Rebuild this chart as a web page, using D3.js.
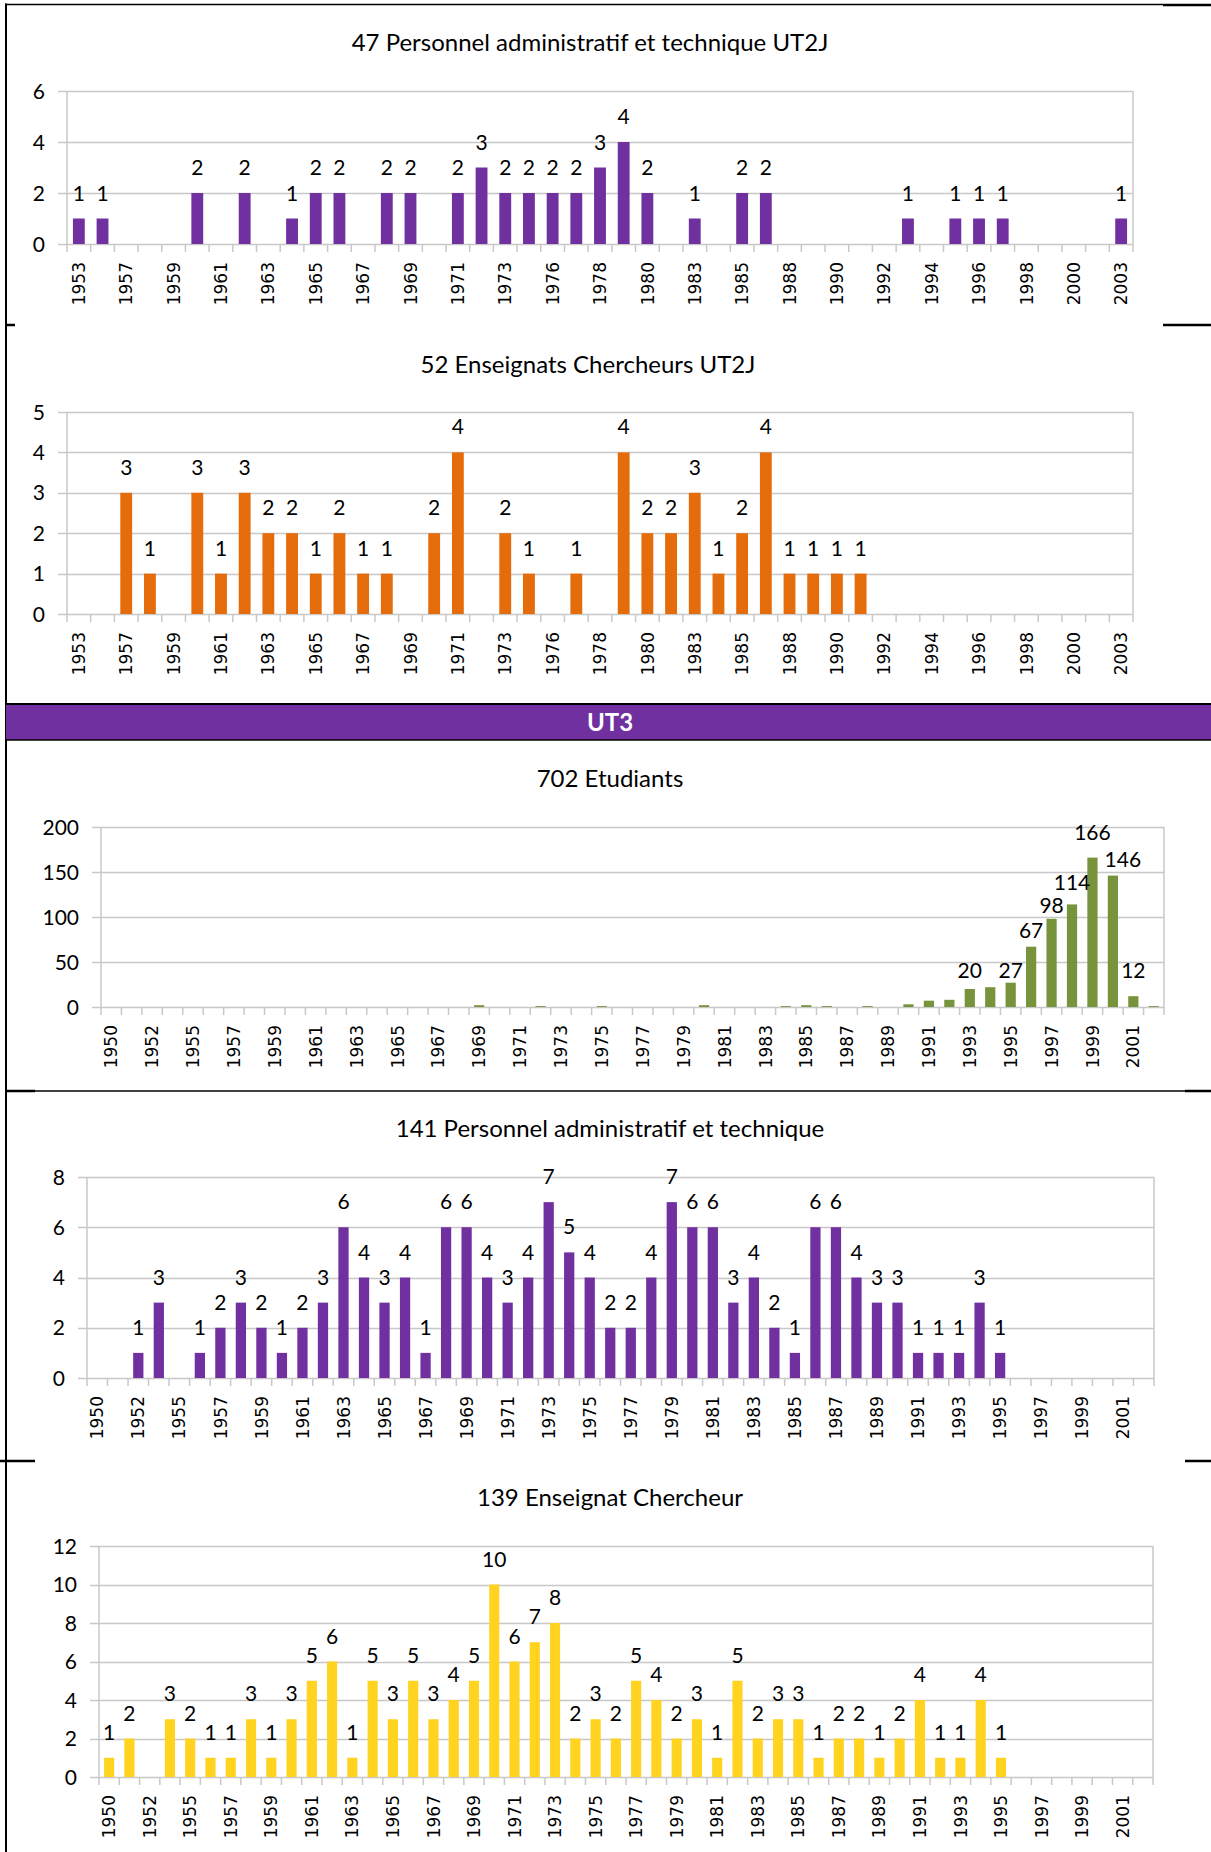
<!DOCTYPE html><head><meta charset="utf-8">
<title>UT2J / UT3</title>
<script src="https://cdn.jsdelivr.net/npm/d3@7"></script>
<style>
body { margin: 0; background: white; }
svg text { font-family: Lato, "Open Sans", sans-serif; fill: #000; }
svg text.xlab { font-family: "DejaVu Sans", sans-serif; }
</style>
</head><body>
<svg id="page" width="1211" height="1852"></svg>
<script>
// UT2J years (x categories)
var yearsUT2J = [1953,1955,1957,1958,1959,1960,1961,1962,1963,1964,1965,1966,1967,1968,1969,1970,
  1971,1972,1973,1975,1976,1977,1978,1979,1980,1982,1983,1984,1985,1987,1988,1989,1990,1991,1992,
  1993,1994,1995,1996,1997,1998,1999,2000,2002,2003];
var persUT2J = [1,1,0,0,0,2,0,2,0,1,2,2,0,2,2,0,2,3,2,2,2,2,3,4,2,0,1,0,2,2,0,0,0,0,0,1,0,1,1,1,0,0,0,0,1];
var ensUT2J  = [0,0,3,1,0,3,1,3,2,2,1,2,1,1,0,2,4,0,2,1,0,1,0,4,2,2,3,1,2,4,1,1,1,1,0,0,0,0,0,0,0,0,0,0,0];

// UT3 years
var yearsUT3 = [1950,1951,1952,1954,1955,1956,1957,1958,1959,1960,1961,1962,1963,1964,1965,1966,1967,
  1968,1969,1970,1971,1972,1973,1974,1975,1976,1977,1978,1979,1980,1981,1982,1983,1984,1985,1986,
  1987,1988,1989,1990,1991,1992,1993,1994,1995,1996,1997,1998,1999,2000,2001,2002];
var etudUT3 = [0,0,0,0,0,0,0,0,0,0,0,0,0,0,0,0,0,0,2,0,0,1,0,0,1,0,0,0,0,2,0,0,0,1,2,1,0,1,0,3,7,8,
  20,22,27,67,98,114,166,146,12,1];
var etudLabelled = [1993,1995,1996,1997,1998,1999,2000,2001];
var persUT3 = [0,0,1,3,0,1,2,3,2,1,2,3,6,4,3,4,1,6,6,4,3,4,7,5,4,2,2,4,7,6,6,3,4,2,1,6,6,4,3,3,1,1,1,3,1,
  0,0,0,0,0,0,0];
var ensUT3  = [1,2,0,3,2,1,1,3,1,3,5,6,1,5,3,5,3,4,5,10,6,7,8,2,3,2,5,4,2,3,1,5,2,3,3,1,2,2,1,2,4,1,1,4,1,
  0,0,0,0,0,0,0];

var svg = d3.select("#page");
var gridColor = "#c8c8c8";

function hline(x1, x2, yy, w) {
  svg.append("line").attr("x1", x1).attr("x2", x2).attr("y1", yy).attr("y2", yy)
    .attr("stroke", "#000").attr("stroke-width", w);
}

// table borders
svg.append("line").attr("x1", 6).attr("x2", 6).attr("y1", 3.5).attr("y2", 1852).attr("stroke", "#000").attr("stroke-width", 2);
hline(5, 1163, 4.5, 1.5);
hline(1163, 1211, 5, 2.5);
hline(5, 15, 325, 2.5);
hline(1163, 1211, 325, 2.5);
// UT3 band
svg.append("rect").attr("x", 6).attr("y", 704).attr("width", 1205).attr("height", 36).attr("fill", "#7030a0");
hline(5, 1211, 704, 2);
hline(5, 1211, 740, 1.5);
svg.append("text").attr("x", 610).attr("y", 722).attr("dy", "0.36em").attr("text-anchor", "middle")
  .style("font-size", "24px").style("font-weight", "bold").style("fill", "#fff").text("UT3");
hline(5, 1211, 1091, 1.5);
hline(5, 35, 1091, 2.5);
hline(1185, 1211, 1091, 2.5);
hline(0, 35, 1461, 2.5);
hline(1185, 1211, 1461, 2.5);

function drawPanel(p) {
  var g = svg.append("g");
  var x = d3.scaleBand().domain(p.years).range([p.left, p.right]).paddingInner(0.5).paddingOuter(0.25);
  var y = d3.scaleLinear().domain([0, p.ymax]).range([p.bottom, p.top]);
  var step = x.step();
  var nudge = p.nudge || {};

  g.append("text").attr("x", p.titleX).attr("y", p.titleY).attr("dy", "0.36em").attr("text-anchor", "middle")
    .style("font-size", "24px").text(p.title);

  var ticks = d3.range(0, p.ymax + p.step / 2, p.step);
  // gridlines with small outside tick
  g.selectAll("line.grid").data(ticks).join("line").attr("class", "grid")
    .attr("x1", p.left - 9).attr("x2", p.right)
    .attr("y1", d => Math.round(y(d)) + 0.5).attr("y2", d => Math.round(y(d)) + 0.5)
    .attr("stroke", gridColor).attr("stroke-width", 1.5);
  g.selectAll("text.ytick").data(ticks).join("text").attr("class", "ytick")
    .attr("x", p.left - 22).attr("y", d => y(d)).attr("dy", "0.36em").attr("text-anchor", "end")
    .style("font-size", "21px").text(d => d);
  // axis frame
  g.append("line").attr("x1", p.left).attr("x2", p.left).attr("y1", p.top).attr("y2", p.bottom)
    .attr("stroke", gridColor).attr("stroke-width", 1.5);
  g.append("line").attr("x1", p.right).attr("x2", p.right).attr("y1", p.top).attr("y2", p.bottom)
    .attr("stroke", gridColor).attr("stroke-width", 1.5);
  // category boundary ticks
  g.selectAll("line.xtick").data(d3.range(p.years.length + 1)).join("line").attr("class", "xtick")
    .attr("x1", i => p.left + i * step).attr("x2", i => p.left + i * step)
    .attr("y1", p.bottom).attr("y2", p.bottom + 8)
    .attr("stroke", gridColor).attr("stroke-width", 1.5);

  // bars
  g.selectAll("rect.bar").data(p.values).join("rect").attr("class", "bar")
    .attr("x", (d, i) => x(p.years[i])).attr("width", x.bandwidth())
    .attr("y", d => y(d)).attr("height", d => y(0) - y(d))
    .attr("fill", p.color);

  // data labels (some moved a little, as in the original, to avoid collisions)
  var shown = p.values.map((v, i) => ({v: v, yr: p.years[i]}))
    .filter(d => d.v > 0 && (!p.labelled || p.labelled.indexOf(d.yr) >= 0));
  g.selectAll("text.dlab").data(shown).join("text").attr("class", "dlab")
    .attr("x", d => x(d.yr) + x.bandwidth() / 2 + (nudge[d.yr] ? nudge[d.yr][0] : 0))
    .attr("y", d => y(d.v) - 18 + (nudge[d.yr] ? nudge[d.yr][1] : 0))
    .attr("text-anchor", "middle").style("font-size", "21px").text(d => d.v);

  // x labels, every other category
  var lab = p.years.filter((d, i) => i % 2 == 0);
  g.selectAll("text.xlab").data(lab).join("text").attr("class", "xlab")
    .attr("transform", d => "translate(" + (x(d) + x.bandwidth() / 2) + "," + (p.bottom + 18) + ") rotate(-90)")
    .attr("dy", "0.36em").attr("text-anchor", "end").style("font-size", "17px").text(d => d);
}

drawPanel({title: "47 Personnel administratif et technique UT2J", titleX: 590, titleY: 42,
  left: 67, right: 1133, top: 91, bottom: 244, ymax: 6, step: 2, color: "#7030a0",
  years: yearsUT2J, values: persUT2J});
drawPanel({title: "52 Enseignats Chercheurs UT2J", titleX: 588, titleY: 364,
  left: 67, right: 1133, top: 412, bottom: 614, ymax: 5, step: 1, color: "#e46c0a",
  years: yearsUT2J, values: ensUT2J});
drawPanel({title: "702 Etudiants", titleX: 610, titleY: 778,
  left: 101, right: 1164, top: 827, bottom: 1007, ymax: 200, step: 50, color: "#77933c",
  years: yearsUT3, values: etudUT3, labelled: etudLabelled,
  nudge: {1993: [0, 7], 1995: [0, 13], 1996: [0, 9], 1997: [0, 12], 1998: [0, 4], 2000: [10, 9]}});
drawPanel({title: "141 Personnel administratif et technique", titleX: 610, titleY: 1128,
  left: 87, right: 1154, top: 1177, bottom: 1378, ymax: 8, step: 2, color: "#7030a0",
  years: yearsUT3, values: persUT3});
drawPanel({title: "139 Enseignat Chercheur", titleX: 610, titleY: 1497,
  left: 99, right: 1153, top: 1546, bottom: 1777, ymax: 12, step: 2, color: "#ffd320",
  years: yearsUT3, values: ensUT3});
</script>
</body></html>
